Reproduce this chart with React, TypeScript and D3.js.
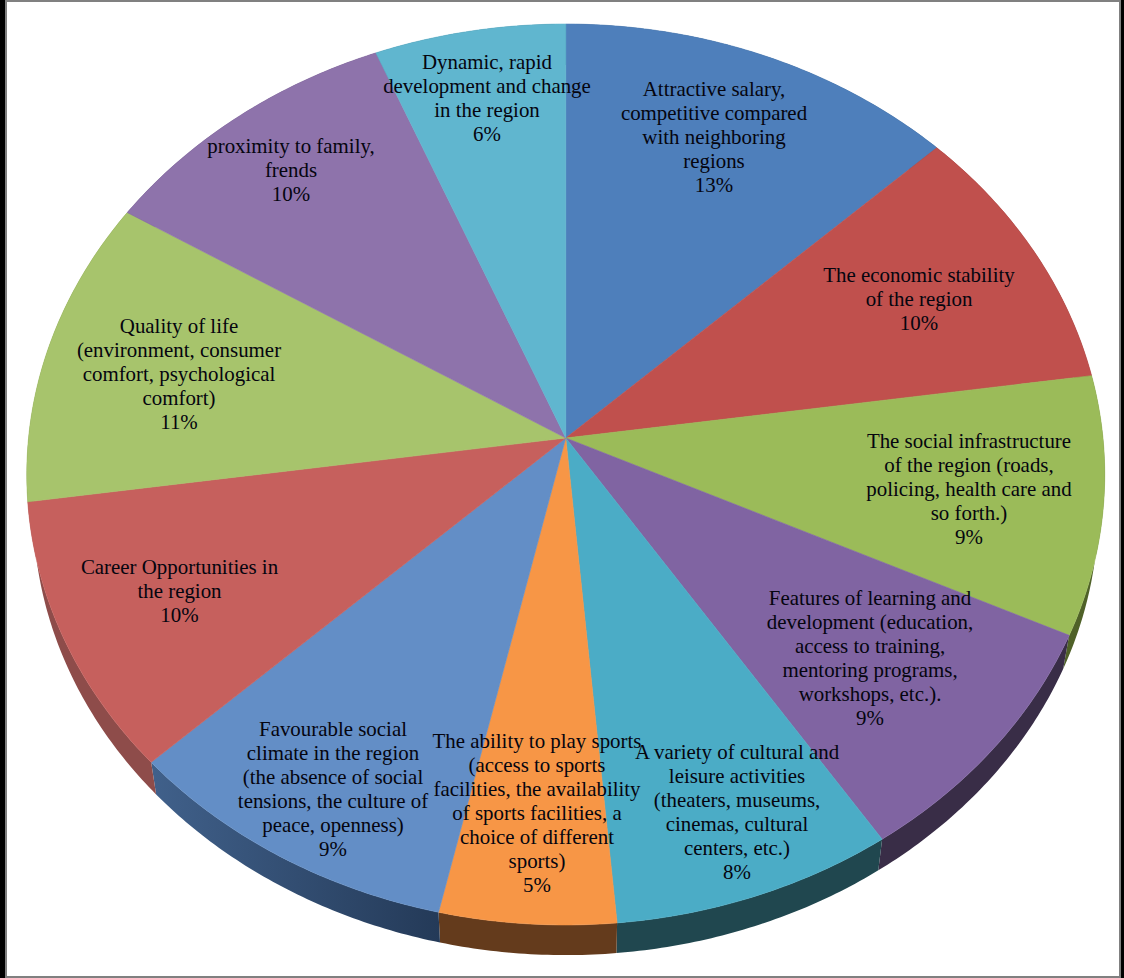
import React from "react";
import * as d3 from "d3";

const WIDTH = 1124;
const HEIGHT = 978;

const shares = [13.0, 9.75, 9.25, 8.75, 7.85, 4.9, 9.5, 9.75, 11.05, 10.0, 6.2];
const percentLabels = ["13%", "10%", "9%", "9%", "8%", "5%", "9%", "10%", "11%", "10%", "6%"];
const categoryLines = [
  ["Attractive salary,", "competitive compared", "with neighboring", "regions"],
  ["The economic stability", "of the region"],
  ["The social infrastructure", "of the region (roads,", "policing, health care and", "so forth.)"],
  ["Features of learning and", "development (education,", "access to training,", "mentoring programs,", "workshops, etc.)."],
  ["A variety of cultural and", "leisure activities", "(theaters, museums,", "cinemas, cultural", "centers, etc.)"],
  ["The ability to play sports", "(access to sports", "facilities, the availability", "of sports facilities, a", "choice of different", "sports)"],
  ["Favourable social", "climate in the region", "(the absence of social", "tensions, the culture of", "peace, openness)"],
  ["Career Opportunities in", "the region"],
  ["Quality of life", "(environment, consumer", "comfort, psychological", "comfort)"],
  ["proximity to family,", "frends"],
  ["Dynamic, rapid", "development and change", "in the region"],
];

const topColors = ["#4e7fbb", "#c0504d", "#9bbb59", "#8064a2", "#4bacc6", "#f79646", "#638ec6", "#c6605d", "#a7c46c", "#8e73ab", "#60b6cf"];
const wallColors = ["#2e4a6e", "#70302e", "#4f6128", "#392d47", "#20474f", "#643b1c", "url(#wallBlue)", "#8e4c4a", "#5d7033", "#4b3a60", "#2d6476"];

// Label layout: centre x and centre y of the first line
const labelCx = [714, 919, 969, 870, 737, 537, 333, 179.5, 179, 291, 487];
const labelTop = [89, 275, 441, 598, 752, 741, 729, 567, 326, 146, 62];
const LINE_HEIGHT = 24;
const FONT_SIZE = 20.9;

// Perspective of the tilted disc
const CX = 565.75;
const CY = 438;
const SX = 537.2;
const SY = 447.5;
const PERSP = -0.081;
const WALL_SCALE = 0.988;
const WALL_DROP = 36;

const project = (angle: number, wall: boolean): [number, number] => {
  const u = Math.sin(angle);
  const v = -Math.cos(angle);
  const w = 1 + PERSP * v;
  const k = wall ? WALL_SCALE : 1;
  return [CX + (k * SX * u) / w, CY + (wall ? WALL_DROP : 0) + (k * SY * v) / w];
};

const arcAngles = (a0: number, a1: number) => {
  const n = Math.max(2, Math.ceil((a1 - a0) / 0.01));
  return d3.range(n + 1).map((i) => a0 + ((a1 - a0) * i) / n);
};

const pathOf = d3.line<[number, number]>().x((d) => d[0]).y((d) => d[1]);

export default function App() {
  const arcs = d3.pie<number>().sort(null).value((d) => d)(shares);

  return (
    <svg
      width={WIDTH}
      height={HEIGHT}
      viewBox={`0 0 ${WIDTH} ${HEIGHT}`}
      style={{ position: "absolute", left: 0, top: 0, display: "block" }}
    >
      <defs>
        <linearGradient id="wallBlue" gradientUnits="userSpaceOnUse" x1={155} x2={440} y1={0} y2={0}>
          <stop offset="0" stopColor="#40608a" />
          <stop offset="1" stopColor="#243a58" />
        </linearGradient>
      </defs>
      <rect x={0} y={0} width={WIDTH} height={HEIGHT} fill="#808080" />
      <rect x={0} y={0} width={5} height={HEIGHT} fill="#000" />
      <rect x={WIDTH - 3} y={0} width={3} height={HEIGHT} fill="#000" />
      <rect x={7} y={2} width={WIDTH - 7 - 5} height={HEIGHT - 4} fill="#fff" />

      {arcs.map((a, i) => {
        const pts = [
          ...arcAngles(a.startAngle, a.endAngle).map((t) => project(t, false)),
          ...arcAngles(a.startAngle, a.endAngle).reverse().map((t) => project(t, true)),
        ];
        return <path key={`w${i}`} d={pathOf(pts) + "Z"} fill={wallColors[i]} />;
      })}

      {arcs.map((a, i) => {
        const pts: [number, number][] = [
          [CX, CY],
          ...arcAngles(a.startAngle, a.endAngle).map((t) => project(t, false)),
        ];
        return (
          <path
            key={`t${i}`}
            d={pathOf(pts) + "Z"}
            fill={topColors[i]}
            stroke={topColors[i]}
            strokeWidth={0.6}
            strokeLinejoin="round"
          />
        );
      })}

      <g fontFamily="'Liberation Serif', serif" fontSize={FONT_SIZE} fill="#05050f" textAnchor="middle">
        {categoryLines.map((lines, i) =>
          [...lines, percentLabels[i]].map((line, j) => (
            <text key={`${i}-${j}`} x={labelCx[i]} y={labelTop[i] + j * LINE_HEIGHT + 7}>
              {line}
            </text>
          ))
        )}
      </g>
    </svg>
  );
}
